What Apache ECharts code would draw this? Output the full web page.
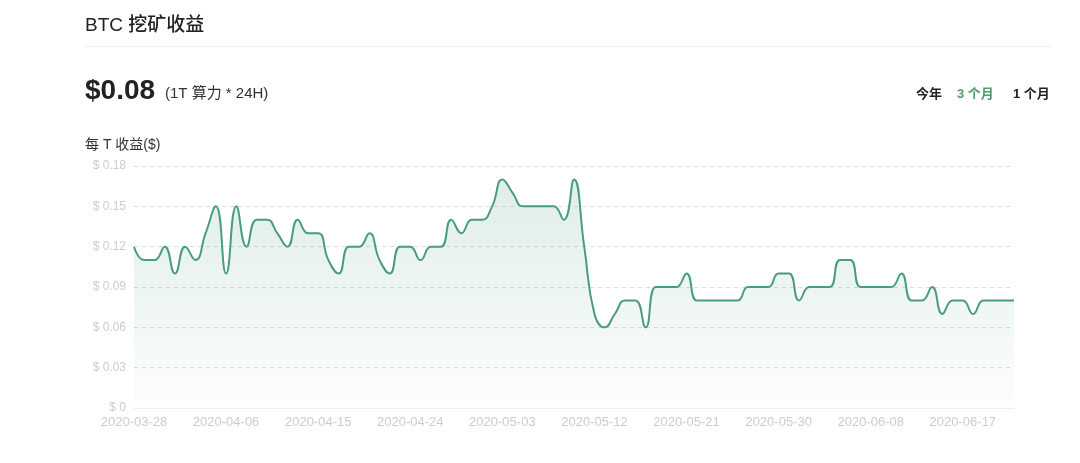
<!DOCTYPE html>
<html>
<head>
<meta charset="utf-8">
<script src="https://cdn.jsdelivr.net/npm/echarts@6/dist/echarts.min.js"></script>
<style>
html,body{margin:0;padding:0;background:#fff;}
#c{width:1080px;height:463px;}
</style>
</head>
<body>
<div id="c"></div>
<script>
// Data
const startDate = '2020-03-28';
const values = [
  0.12,0.11,0.11,0.12,0.10,0.12,0.11,0.13,0.15,0.10,
  0.15,0.12,0.14,0.14,0.13,0.12,0.14,0.13,0.13,0.11,
  0.10,0.12,0.12,0.13,0.11,0.10,0.12,0.12,0.11,0.12,
  0.12,0.14,0.13,0.14,0.14,0.15,0.17,0.16,0.15,0.15,
  0.15,0.15,0.14,0.17,0.12,0.07,0.06,0.07,0.08,0.08,
  0.06,0.09,0.09,0.09,0.10,0.08,0.08,0.08,0.08,0.08,
  0.09,0.09,0.09,0.10,0.10,0.08,0.09,0.09,0.09,0.11,
  0.11,0.09,0.09,0.09,0.09,0.10,0.08,0.08,0.09,0.07,
  0.08,0.08,0.07,0.08,0.08,0.08,0.08
];
const yTicks = [0, 0.03, 0.06, 0.09, 0.12, 0.15, 0.18];

function buildDates(start, n) {
  const out = [];
  const d = new Date(start + 'T00:00:00Z');
  for (let i = 0; i < n; i++) {
    const t = new Date(d.getTime() + i * 86400000);
    out.push(t.toISOString().slice(0, 10));
  }
  return out;
}
const dates = buildDates(startDate, values.length);

const chart = echarts.init(document.getElementById('c'));
const font = '"Liberation Sans", "Noto Sans CJK SC", sans-serif';
chart.setOption({
  animation: false,
  textStyle: { fontFamily: font },
  grid: { left: 134, right: 66, top: 166, bottom: 55 },
  graphic: [
    { type: 'text', left: 85, top: 16, style: { text: 'BTC 挖矿收益', fill: '#222', font: '500 19px ' + font } },
    { type: 'rect', shape: { x: 85, y: 46, width: 967, height: 1 }, style: { fill: '#eeeeee' } },
    { type: 'text', left: 85, top: 77, style: { text: '$0.08', fill: '#222', font: 'bold 28px ' + font } },
    { type: 'text', left: 165, top: 86, style: { text: '(1T 算力 * 24H)', fill: '#333', font: '15px ' + font } },
    { type: 'text', left: 916, top: 88, style: { text: '今年', fill: '#222', font: 'bold 13px ' + font } },
    { type: 'text', left: 957, top: 88, style: { text: '3 个月', fill: '#4e9e66', font: 'bold 13px ' + font } },
    { type: 'text', left: 1013, top: 88, style: { text: '1 个月', fill: '#222', font: 'bold 13px ' + font } },
    { type: 'text', left: 85, top: 138, style: { text: '每 T 收益($)', fill: '#333', font: '14px ' + font } }
  ],
  xAxis: {
    type: 'category',
    data: dates,
    boundaryGap: false,
    axisLine: { lineStyle: { color: '#eeeeee' } },
    axisTick: { show: false },
    axisLabel: { interval: 8, color: '#cccccc', fontSize: 13, margin: 8, fontFamily: font }
  },
  yAxis: {
    type: 'value',
    min: yTicks[0],
    max: yTicks[yTicks.length - 1],
    interval: 0.03,
    axisLine: { show: false },
    axisTick: { show: false },
    axisLabel: {
      color: '#cccccc', fontSize: 12, margin: 8, fontFamily: font,
      formatter: v => '$ ' + (Math.round(v * 100) / 100)
    },
    splitLine: { lineStyle: { color: '#dcdcdc', type: [4, 4] } }
  },
  series: [{
    type: 'line',
    data: values,
    smooth: true,
    symbol: 'none',
    lineStyle: { color: '#4a9c80', width: 2 },
    itemStyle: { color: '#4a9c80' },
    areaStyle: {
      color: new echarts.graphic.LinearGradient(0, 0, 0, 1, [
        { offset: 0, color: 'rgba(74,156,128,0.25)' },
        { offset: 1, color: 'rgba(74,156,128,0.02)' }
      ])
    }
  }]
});
</script>
</body>
</html>
